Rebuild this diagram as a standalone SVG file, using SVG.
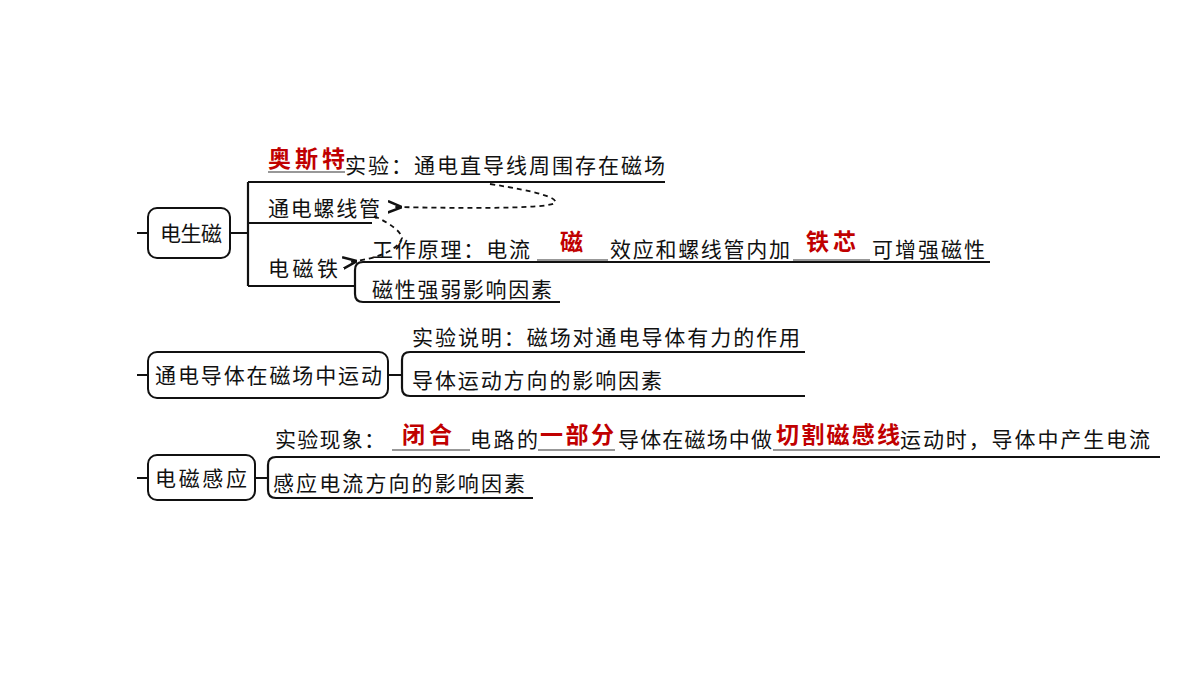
<svg xmlns="http://www.w3.org/2000/svg" width="1200" height="676" viewBox="0 0 1200 676">
<defs>
<style>
.t{font-family:"Liberation Serif","Noto Sans CJK SC",serif;font-size:21px;fill:#111}
.r{font-family:"Liberation Sans","Noto Sans CJK SC",sans-serif;font-size:23px;font-weight:bold;fill:#c00000}
.l{stroke:#111;stroke-width:2.2;fill:none}
.u{stroke:#333;stroke-width:1.2;fill:none}
.box{fill:#fff;stroke:#111;stroke-width:2}
.d{stroke:#111;stroke-width:1.8;fill:none;stroke-dasharray:5 4}
</style>
<marker id="ah" viewBox="0 0 10 10" refX="5" refY="5" markerWidth="8" markerHeight="8" orient="auto-start-reverse"><path d="M10,1 L0,5 L10,9" fill="none" stroke="#111" stroke-width="1.8"/></marker>
</defs>
<rect width="1200" height="676" fill="#fff"/>
<g id="connectors">
<path class="l" d="M137,233H148 M230,233H248 M248,182V286 M248,182H665 M248,223H372 M248,286H355"/>
<path class="l" d="M355,270Q355,262 363,262H990 M355,270V294Q355,302 363,302H560"/>
<path class="l" d="M137,375H148 M388,375H402 M402,360Q402,352 410,352H805 M402,360V388Q402,396 410,396H805"/>
<path class="l" d="M137,478H148 M255,478H268 M268,465Q268,457 276,457H1160 M268,465V490Q268,498 276,498H533"/>
<path class="d" d="M490,184Q560,195 555,203Q545,210 395,207" marker-end="url(#ah)"/>
<path class="d" d="M374,216Q400,228 402,238Q395,256 350,262" marker-end="url(#ah)"/>
<path class="u" d="M268,172H345 M537,260H608 M793,260H870 M392,450H470 M538,450H615 M773,450H900"/>
</g>
<g id="n1">
<rect class="box" x="148" y="208" width="82" height="50" rx="9"/>
<text class="t" x="160" y="241" textLength="62">电生磁</text>
<text class="r" x="268" y="167" textLength="77">奥斯特</text>
<text class="t" x="345" y="173" textLength="320">实验：通电直导线周围存在磁场</text>
<text class="t" x="268" y="216" textLength="112">通电螺线管</text>
<text class="t" x="268" y="276" textLength="70">电磁铁</text>
<text class="t" x="372" y="257" textLength="158">工作原理：电流</text>
<text class="r" x="560" y="250">磁</text>
<text class="t" x="610" y="257" textLength="180">效应和螺线管内加</text>
<text class="r" x="806" y="250" textLength="50">铁芯</text>
<text class="t" x="872" y="257" textLength="113">可增强磁性</text>
<text class="t" x="372" y="297" textLength="180">磁性强弱影响因素</text>
</g>
<g id="n2">
<rect class="box" x="148" y="352" width="240" height="46" rx="9"/>
<text class="t" x="155" y="383" textLength="227">通电导体在磁场中运动</text>
<text class="t" x="412" y="345" textLength="388">实验说明：磁场对通电导体有力的作用</text>
<text class="t" x="412" y="388" textLength="250">导体运动方向的影响因素</text>
</g>
<g id="n3">
<rect class="box" x="148" y="455" width="107" height="45" rx="9"/>
<text class="t" x="155" y="486" textLength="92">电磁感应</text>
<text class="t" x="275" y="447" textLength="110">实验现象：</text>
<text class="r" x="402" y="443" textLength="50">闭合</text>
<text class="t" x="470" y="447" textLength="68">电路的</text>
<text class="r" x="540" y="443" textLength="74">一部分</text>
<text class="t" x="618" y="447" textLength="154">导体在磁场中做</text>
<text class="r" x="776" y="443" textLength="124">切割磁感线</text>
<text class="t" x="900" y="447" textLength="250">运动时，导体中产生电流</text>
<text class="t" x="273" y="491" textLength="252">感应电流方向的影响因素</text>
</g>
</svg>
